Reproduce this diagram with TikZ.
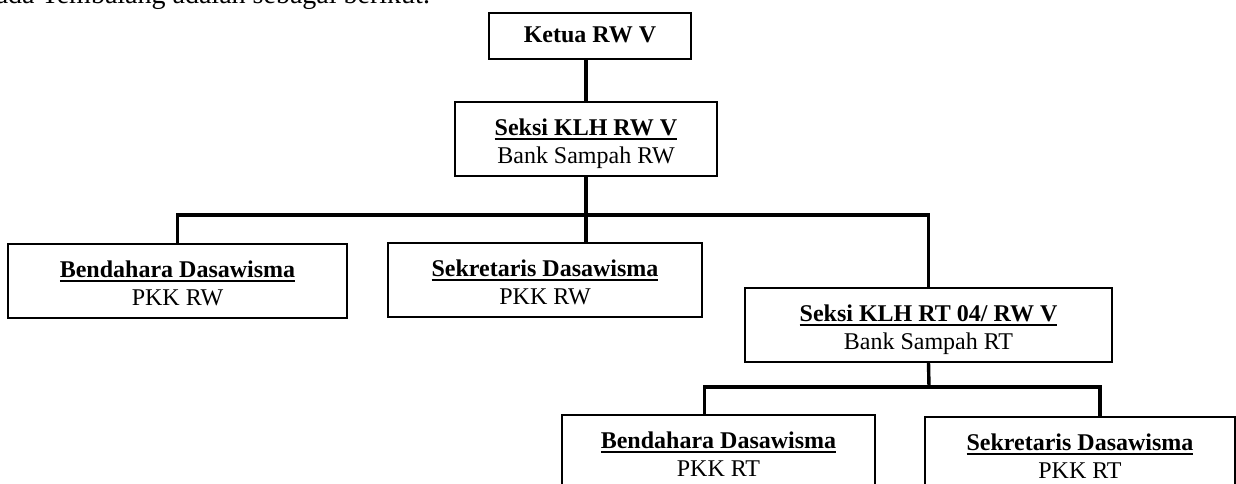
\documentclass[tikz,border=0pt]{standalone}
\usepackage{fontspec}
\setmainfont{Liberation Serif}
\newcommand{\boxhead}[1]{\rule{0pt}{13.5pt}\vtop{\hbox{\textbf{#1}}\kern1.3pt\hrule height 0.9pt}}
\newcommand{\boxtext}[2]{\boxhead{#1}\\#2\rule[-3pt]{0pt}{3pt}}
\tikzset{
  orgbox/.style = {draw, line width = 0.7pt, align = center, inner sep = 0pt, minimum height = 37pt, font = \fontsize{12}{14}\selectfont},
  link/.style = {line width = 1.7pt}
}
\begin{document}
\begin{tikzpicture}[x = 0.5pt, y = -0.5pt]
  \useasboundingbox (0, 0) rectangle (1236, 483);

  \node [anchor = base east, font = \fontsize{14}{16}\selectfont] (intro) at (437, 3) {ada Tembalang adalah sebagai berikut.};

  \node [orgbox, minimum width = 101pt, minimum height = 23pt] (ketua) at (590, 36) {\textbf{Ketua RW V}\rule[-1pt]{0pt}{1pt}};
  \node [orgbox, minimum width = 131pt] (klhrw) at (586, 139) {\boxtext{Seksi KLH RW V}{Bank Sampah RW}};

  \node [orgbox, minimum width = 169.5pt] (bendrw) at (177.5, 281) {\boxtext{Bendahara Dasawisma}{PKK RW}};
  \node [orgbox, minimum width = 157pt] (sekrw) at (545, 280) {\boxtext{Sekretaris Dasawisma}{PKK RW}};
  \node [orgbox, minimum width = 183.5pt] (klhrt) at (928.5, 325) {\boxtext{Seksi KLH RT 04/ RW V}{Bank Sampah RT}};

  \node [orgbox, minimum width = 156.5pt] (bendrt) at (718.5, 452) {\boxtext{Bendahara Dasawisma}{PKK RT}};
  \node [orgbox, minimum width = 155pt] (sekrt) at (1080, 454) {\boxtext{Sekretaris Dasawisma}{PKK RT}};

  \coordinate (rwbus) at (586, 215);
  \coordinate (rtbus) at (929, 387);

  \draw [link] (klhrw.north) -- (klhrw.north |- ketua.south);
  \draw [link] (klhrw.south) -- (klhrw.south |- sekrw.north);
  \draw [link] (bendrw.north) |- (rwbus) -| (klhrt.north);

  \draw [link] (klhrt.south) -- (rtbus);
  \draw [link] ([xshift = -7pt]bendrt.north) |- (rtbus) -| ([xshift = 10pt]sekrt.north);
\end{tikzpicture}
\end{document}
